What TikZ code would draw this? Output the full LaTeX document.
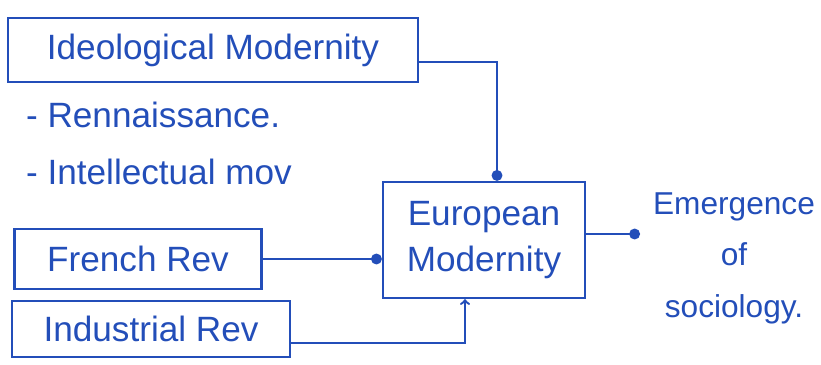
\documentclass[tikz,border=0pt]{standalone}
\usepackage{xcolor}
\usepackage{fontspec}
\setmainfont{Liberation Sans}
\usepackage{tikz}
\usetikzlibrary{positioning,%
  arrows,%
  calc
}
\definecolor{inkblue}{RGB}{35,78,185}

\tikzset{
  ink/.style={draw=inkblue,line width=2pt},
  box/.style={ink,rectangle,text=inkblue,inner sep=3pt,font=\fontsize{30}{40}\selectfont},
  lbl/.style={text=inkblue,font=\fontsize{30}{40}\selectfont}
}

\begin{document}
\begin{tikzpicture}[x=0.03cm,y=-0.03cm]
            \useasboundingbox (0,0) rectangle (821,364);
            \node[box,minimum width=12.3cm,minimum height=1.92cm] (ideo) at (213,50) {Ideological Modernity};
            \node[lbl,anchor=west] (renn) at (22,115) {- Rennaissance.};
            \node[lbl,anchor=west] (intel) at (22,172) {- Intellectual mov};

            \node[box,align=center,minimum width=6.06cm,minimum height=3.48cm] (euro) at (484,240) {European\\Modernity};
            \node[box,minimum width=7.41cm,minimum height=1.8cm] (french) at (138,259) {French Rev};
            \node[box,minimum width=8.34cm,minimum height=1.68cm] (indus) at (151,329) {Industrial Rev};

            \node[lbl,align=center,font=\fontsize{27}{44}\selectfont] (emerg) at (734,258) {Emergence\\of\\sociology.};
            \coordinate (tip) at (640,234);

            \draw[ink,-*] ([yshift=-0.36cm]ideo.east) -| ([xshift=0.39cm]euro.north);
            \draw[ink,-*] (french.east) -- (french.east -| euro.west);
            \draw[ink,->] ([yshift=-0.42cm]indus.east) -| ([xshift=-0.57cm]euro.south);
            \draw[ink,-*] (euro.east |- tip) -- (tip);
        \end{tikzpicture}
\end{document}
